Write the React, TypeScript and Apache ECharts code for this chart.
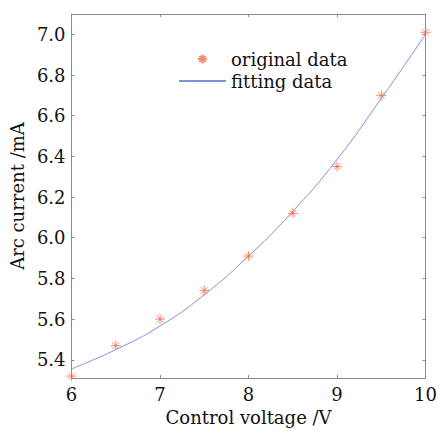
import React, { useEffect, useRef } from "react";
import * as echarts from "echarts";

const voltage = [6, 6.5, 7, 7.5, 8, 8.5, 9, 9.5, 10];
const originalCurrent = [5.32, 5.47, 5.6, 5.74, 5.91, 6.12, 6.35, 6.7, 7.01];
const fitVoltage = [6, 6.5, 7, 7.5, 8, 8.5, 9, 9.5, 10];
const fitCurrent = [5.355, 5.45, 5.566, 5.72, 5.91, 6.13, 6.385, 6.685, 7.0];
const xTicks = [6, 7, 8, 9, 10];
const yTicks = [5.4, 5.6, 5.8, 6.0, 6.2, 6.4, 6.6, 6.8, 7.0];

const ASTERISK =
  "path://M5,0 L5,10 M0,5 L10,5 M1.6,1.6 L8.4,8.4 M1.6,8.4 L8.4,1.6";

const FONT = "'DejaVu Serif', 'Liberation Serif', serif";
const AXIS_COLOR = "#8a8a8a";

export default function App() {
  const ref = useRef<HTMLDivElement>(null);
  useEffect(() => {
    if (!ref.current) return;
    const chart = echarts.init(ref.current, undefined, { renderer: "svg" });
    const baseX = {
      type: "value",
      min: 6,
      max: 10,
      interval: 1,
      splitLine: { show: false },
      axisLine: { show: true, onZero: false, lineStyle: { color: AXIS_COLOR, width: 1 } },
      axisTick: {
        show: true,
        inside: true,
        length: 3,
        customValues: xTicks,
        lineStyle: { color: AXIS_COLOR },
      },
    };
    const baseY = {
      type: "value",
      min: 5.31,
      max: 7.1,
      splitLine: { show: false },
      axisLine: { show: true, onZero: false, lineStyle: { color: AXIS_COLOR, width: 1 } },
      axisTick: {
        show: true,
        inside: true,
        length: 3,
        customValues: yTicks,
        lineStyle: { color: AXIS_COLOR },
      },
    };
    chart.setOption({
      animation: false,
      grid: { left: 69, right: 11, top: 14, bottom: 47, containLabel: false },
      legend: {
        left: 178,
        top: 50,
        padding: 0,
        orient: "vertical",
        itemWidth: 47,
        itemHeight: 9,
        itemGap: 4,
        textStyle: { fontFamily: FONT, fontSize: 18, color: "#111" },
        data: [
          { name: "original data" },
          { name: "fitting data", itemStyle: { color: "rgba(0,0,0,0)", borderWidth: 0, opacity: 0 } },
        ],
      },
      xAxis: [
        {
          ...baseX,
          position: "bottom",
          name: "Control voltage /V",
          nameLocation: "middle",
          nameGap: 28,
          nameTextStyle: { fontFamily: FONT, fontSize: 18, color: "#111" },
          axisLabel: {
            fontFamily: FONT,
            fontSize: 18,
            color: "#111",
            margin: 7,
            customValues: xTicks,
          },
        },
        {
          ...baseX,
          position: "top",
          axisLabel: { show: false },
        },
      ],
      yAxis: [
        {
          ...baseY,
          position: "left",
          name: "Arc current /mA",
          nameLocation: "middle",
          nameGap: 45,
          nameTextStyle: { fontFamily: FONT, fontSize: 18, color: "#111" },
          axisLabel: {
            fontFamily: FONT,
            fontSize: 18,
            color: "#111",
            margin: 6,
            customValues: yTicks,
            formatter: (v: number) => v.toFixed(1),
          },
        },
        {
          ...baseY,
          position: "right",
          axisLabel: { show: false },
        },
      ],
      series: [
        {
          name: "original data",
          type: "scatter",
          symbol: ASTERISK,
          symbolSize: 10,
          itemStyle: { color: "rgba(0,0,0,0)", borderColor: "#f26b50", borderWidth: 1 },
          data: voltage.map((x, i) => [x, originalCurrent[i]]),
          z: 3,
        },
        {
          name: "fitting data",
          type: "line",
          smooth: true,
          showSymbol: false,
          symbol: "none",
          lineStyle: { color: "#8090dc", width: 1 },
          itemStyle: { color: "#8090dc" },
          data: fitVoltage.map((x, i) => [x, fitCurrent[i]]),
          z: 2,
        },
      ],
    });
    return () => chart.dispose();
  }, []);
  return (
    <div
      ref={ref}
      style={{ position: "fixed", left: 0, top: 0, width: 440, height: 431, background: "#fff" }}
    />
  );
}
